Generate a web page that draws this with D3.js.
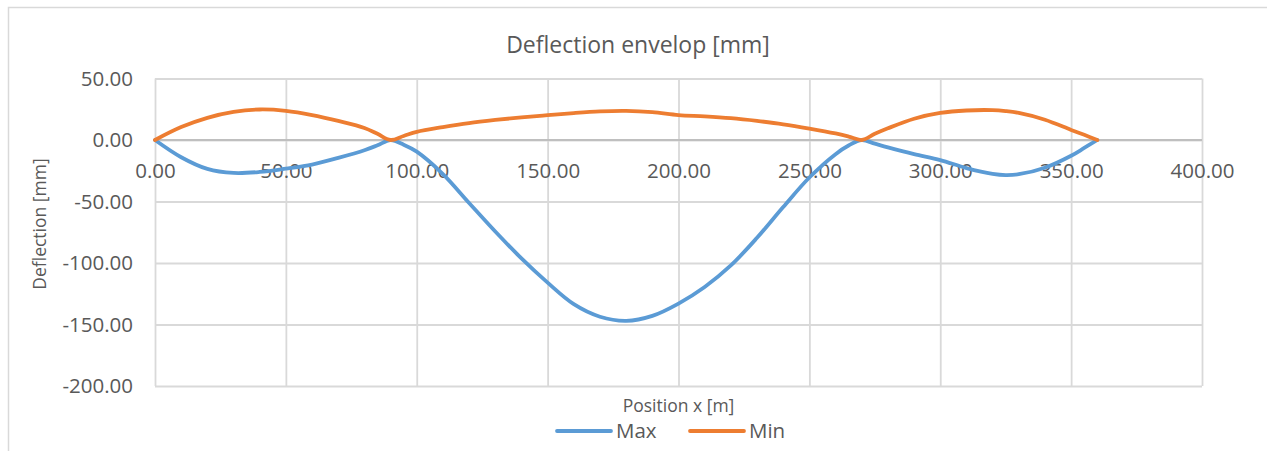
<!DOCTYPE html>
<html>
<head>
<meta charset="utf-8">
<script src="https://cdn.jsdelivr.net/npm/d3@7"></script>
<style>
  body { margin: 0; background: #ffffff; }
  svg { display: block; font-family: "Open Sans", sans-serif; }
</style>
</head>
<body>
<svg id="chart" width="1267" height="451"></svg>
<script>
// Deflection envelope along the beam; extra stations around the supports
const positions = [
  0, 10, 20, 30, 40, 50, 60, 70, 80, 85,
  90, 95, 100, 110, 120, 130, 140, 150, 160, 170,
  180, 190, 200, 210, 220, 230, 240, 250, 260, 265,
  270, 275, 280, 290, 300, 310, 320, 325, 330, 340,
  350, 355, 360
];
const maxDeflection = [
  0, -14, -23.5, -26.8, -26, -23.3, -20, -14.5, -8.3, -4.3,
  0, -3.8, -9.5, -27.7, -51.2, -74.4, -96.3, -116, -133.5, -143.7,
  -147, -143, -133, -119.5, -102, -79.5, -54.5, -30.5, -11.5, -4.5,
  0, -3, -6, -11.5, -16.3, -22.8, -27.5, -28.5, -27.8, -22.5,
  -12.8, -6.5, 0
];
const minDeflection = [
  0, 10.5, 18, 22.8, 24.8, 23.7, 20.3, 15.5, 9.8, 5,
  0, 3.3, 6.6, 10.5, 13.8, 16.3, 18.4, 20.2, 21.9, 23.2,
  23.6, 22.6, 20.3, 19.2, 17.7, 15.5, 12.8, 9.3, 5.3, 2.8,
  0, 5, 9.5, 17.3, 22, 24, 24.3, 23.5, 22, 16.5,
  8.2, 4.2, 0
];
const seriesNames = ["Max", "Min"];
const seriesColors = ["#5B9BD5", "#ED7D31"];
const xTicks = [0, 50, 100, 150, 200, 250, 300, 350, 400];
const yTicks = [50, 0, -50, -100, -150, -200];

const chartTitle = "Deflection envelop [mm]";
const xTitle = "Position x [m]";
const yTitle = "Deflection [mm]";

const svg = d3.select("#chart");
const W = 1267, H = 451;
const plot = { left: 155, right: 1202, top: 78.5, bottom: 386 };
const textColor = "#595959";

const fmt = d3.formatLocale({
  decimal: ".", thousands: ",", grouping: [3], currency: ["", ""], minus: "-"
}).format(".2f");

const x = d3.scaleLinear().domain([0, 400]).range([plot.left, plot.right]);
const y = d3.scaleLinear().domain([-200, 50]).range([plot.bottom, plot.top]);

// chart frame
svg.append("rect")
  .attr("x", 8.5).attr("y", 7.5)
  .attr("width", W + 20).attr("height", H + 20)
  .attr("fill", "#ffffff")
  .attr("stroke", "#d9d9d9").attr("stroke-width", 1.5);

// horizontal gridlines
const gy = svg.append("g")
  .attr("transform", `translate(${plot.left},0)`)
  .call(d3.axisLeft(y).tickValues(yTicks).tickSize(-(plot.right - plot.left)).tickFormat(""));
gy.select(".domain").remove();
gy.selectAll(".tick line").attr("stroke", "#d9d9d9").attr("stroke-width", 1.8);

// vertical gridlines
const gx = svg.append("g")
  .attr("transform", `translate(0,${plot.bottom})`)
  .call(d3.axisBottom(x).tickValues(xTicks).tickSize(-(plot.bottom - plot.top)).tickFormat(""));
gx.select(".domain").remove();
gx.selectAll(".tick line").attr("stroke", "#d9d9d9").attr("stroke-width", 1.8);

// horizontal axis line at zero
svg.append("line")
  .attr("x1", plot.left).attr("x2", plot.right)
  .attr("y1", y(0)).attr("y2", y(0))
  .attr("stroke", "#bfbfbf").attr("stroke-width", 2);

// y tick labels
const yAxis = svg.append("g")
  .attr("transform", `translate(${plot.left - 22},0)`)
  .call(d3.axisLeft(y).tickValues(yTicks).tickSize(0).tickFormat(fmt));
yAxis.select(".domain").remove();
yAxis.selectAll("text")
  .attr("x", 0)
  .attr("fill", textColor)
  .style("font-family", "'Open Sans', sans-serif")
  .style("font-size", "20.5px");

// x tick labels sit below the zero line
const xAxis = svg.append("g")
  .attr("transform", `translate(0,${y(0)})`)
  .call(d3.axisBottom(x).tickValues(xTicks).tickSize(0).tickFormat(fmt));
xAxis.select(".domain").remove();
xAxis.selectAll("text")
  .attr("y", 0).attr("dy", 0)
  .attr("transform", "translate(0,38)")
  .attr("fill", textColor)
  .style("font-family", "'Open Sans', sans-serif")
  .style("font-size", "20.5px");

// series lines
const line = d3.line()
  .x((d, i) => x(positions[i]))
  .y(d => y(d))
  .curve(d3.curveCatmullRom.alpha(0.5));

[maxDeflection, minDeflection].forEach((vals, k) => {
  svg.append("path")
    .datum(vals)
    .attr("d", line)
    .attr("fill", "none")
    .attr("stroke", seriesColors[k])
    .attr("stroke-width", 3.8)
    .attr("stroke-linejoin", "round")
    .attr("stroke-linecap", "round");
});

// titles
svg.append("text")
  .attr("x", 638).attr("y", 53)
  .attr("text-anchor", "middle")
  .attr("fill", textColor)
  .style("font-size", "23px")
  .text(chartTitle);

svg.append("text")
  .attr("x", (plot.left + plot.right) / 2).attr("y", 411.5)
  .attr("text-anchor", "middle")
  .attr("fill", textColor)
  .style("font-size", "17.5px")
  .text(xTitle);

svg.append("text")
  .attr("transform", `translate(46,224) rotate(-90)`)
  .attr("text-anchor", "middle")
  .attr("fill", textColor)
  .style("font-size", "17.5px")
  .text(yTitle);

// legend
const legendX = [557, 690];
const legend = svg.append("g");
seriesNames.forEach((name, k) => {
  const g = legend.append("g").attr("transform", `translate(${legendX[k]},431)`);
  g.append("line")
    .attr("x1", 0).attr("x2", 54)
    .attr("y1", 0).attr("y2", 0)
    .attr("stroke", seriesColors[k])
    .attr("stroke-width", 3.8)
    .attr("stroke-linecap", "round");
  g.append("text")
    .attr("x", 59).attr("y", 7)
    .attr("fill", textColor)
    .style("font-size", "20.5px")
    .text(name);
});
</script>
</body>
</html>
